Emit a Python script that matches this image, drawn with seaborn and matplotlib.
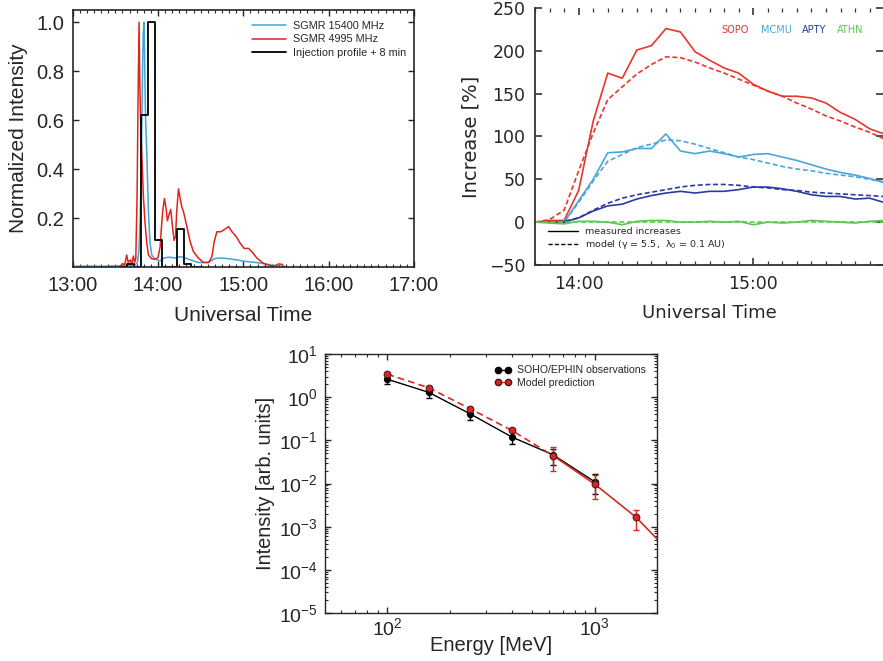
import numpy as np
import pandas as pd
import matplotlib
matplotlib.use("Agg")
import matplotlib.pyplot as plt
import seaborn as sns
from matplotlib.lines import Line2D
from matplotlib.ticker import MultipleLocator, LogLocator, NullFormatter

sns.set_style("ticks")
plt.rcParams['font.family'] = ['Liberation Sans', 'DejaVu Sans']
plt.rcParams['xtick.direction'] = 'in'
plt.rcParams['ytick.direction'] = 'in'

# ---------------- Panel 1: radio profiles (minutes after 13:00) ----------------
t_blue = [0, 10, 20, 30, 38, 42, 44, 45.5, 46.5, 47.5, 48.3, 49, 49.6, 50.2, 50.6, 51, 51.4,
          52.1, 52.8, 53.3, 54.4, 55.6, 58, 61.5, 64, 67, 70, 73, 75, 78, 81, 84, 88, 92, 96,
          100, 104, 108, 112, 116, 120, 125, 130, 135, 140, 145, 149]
v_blue = [0.004, 0.005, 0.004, 0.006, 0.007, 0.008, 0.01, 0.02, 0.06, 0.2, 0.45, 0.75, 0.95,
          1.0, 0.85, 0.68, 0.58, 0.47, 0.32, 0.22, 0.1, 0.05, 0.033, 0.027, 0.037, 0.041, 0.04,
          0.037, 0.043, 0.041, 0.034, 0.028, 0.02, 0.019, 0.022, 0.036, 0.038, 0.036, 0.033,
          0.03, 0.025, 0.022, 0.019, 0.014, 0.009, 0.005, 0.003]

t_red = [33, 35, 36.5, 38, 39, 40.4, 41.5, 42.7, 43.6, 44.4, 45.3, 46, 46.7, 47.2, 47.8, 48.6,
         49.7, 50.9, 52.1, 53.3, 55.6, 58, 60, 61.5, 62.5, 63.4, 64.5, 65.5, 66.6, 68, 69, 69.9,
         71.3, 72.3, 73.2, 74.4, 75.6, 76.7, 77.9, 80.3, 82.6, 84.9, 88.5, 92, 95.5, 97.9, 99.5,
         101.4, 104.2, 106.1, 108, 109.6, 112, 115, 117.8, 120.6, 123.7, 126, 129.6, 134.2,
         140.1, 143, 144.8, 147.2, 148.5]
v_red = [0.0, 0.015, 0.01, 0.05, 0.02, 0.03, 0.015, 0.046, 0.02, 0.037, 0.3, 0.7, 1.0, 0.75,
         0.6, 0.46, 0.29, 0.18, 0.1, 0.05, 0.035, 0.033, 0.04, 0.084, 0.17, 0.234, 0.28, 0.247,
         0.19, 0.22, 0.236, 0.18, 0.11, 0.125, 0.234, 0.32, 0.28, 0.247, 0.227, 0.166, 0.105,
         0.064, 0.037, 0.02, 0.019, 0.043, 0.105, 0.145, 0.145, 0.152, 0.159, 0.166, 0.145,
         0.125, 0.098, 0.077, 0.077, 0.064, 0.037, 0.016, 0.005, 0.008, 0.014, 0.012, 0.0]

t_inj = [33, 38, 43, 48, 53, 58, 63, 68, 73, 78, 83, 90]
v_inj = [0, 0.015, 0, 0.62, 1.0, 0.11, 0, 0, 0.155, 0.015, 0, 0]

time_ticks1 = [0, 60, 120, 180, 240]
time_labels1 = ["13:00", "14:00", "15:00", "16:00", "17:00"]

# ---------------- Panel 2: neutron monitor increases ----------------
t_nm = [45, 50, 55, 60, 65, 70, 75, 80, 85, 90, 95, 100, 105, 110, 115, 120, 125, 130, 135,
        140, 145, 150, 155, 160, 165]
sopo_meas = [0, 2, 2, 37, 118, 174, 168, 201, 206, 226, 222, 199, 189, 180, 174, 161, 153, 147,
             147, 145, 139, 128, 120, 109, 103]
sopo_model = [0, 3, 14, 60, 104, 143, 158, 173, 184, 193, 192, 187, 180, 174, 167, 160, 153,
              147, 139, 132, 124, 118, 111, 105, 97]
mcmu_meas = [0, 0, 0, 25, 50, 81, 82, 86, 86, 103, 83, 80, 83, 80, 76, 79, 80, 76, 72, 67, 62,
             58, 55, 51, 46]
mcmu_model = [0, 0, 0, 23, 48, 71, 79, 87, 91, 96, 95, 91, 86, 81, 76, 73, 69, 65, 62, 60, 57,
              55, 53, 50, 47]
apty_meas = [0, 0, 0, 5, 13, 19, 21, 27, 31, 34, 36, 34, 36, 36, 38, 41, 41, 39, 36, 32, 30, 30,
             27, 28, 23]
apty_model = [0, 0, 1, 5, 14, 22, 28, 32, 35, 38, 41, 43, 44, 44, 43, 41, 40, 38, 37, 35, 34,
              33, 32, 31, 30]
athn_meas = [0, -1, -2, 1, 1, 0, -3, 1, 2, 2, 0, 0, 1, 0, 1, -3, 0, -1, 0, 2, 1, 0, -1, 1, 2]
athn_model = [0, 0, 0, 0, 0, 0, 0, 0, 0, 0, 0, 0, 0, 0, 0, 0, 0, 0, 0, 0, 0, 0, 0, 0, 0]

stations = ["SOPO", "MCMU", "APTY", "ATHN"]
station_colors = {"SOPO": "#e8352e", "MCMU": "#4aa6da", "APTY": "#2b3b9e", "ATHN": "#5cc850"}
time_ticks2 = [60, 120]
time_labels2 = ["14:00", "15:00"]

# ---------------- Panel 3: spectrum ----------------
energy = [100, 158, 251, 398, 631, 1000, 1585]
obs = [2.6, 1.3, 0.41, 0.12, 0.046, 0.011]
obs_lo = [1.98, 0.97, 0.30, 0.081, 0.027, 0.0056]
obs_hi = [3.3, 1.75, 0.55, 0.17, 0.063, 0.0166]
model = [3.4, 1.66, 0.54, 0.17, 0.044, 0.0097, 0.00165]
model_err_e = [631, 1000, 1585]
model_err_lo = [0.0195, 0.0043, 0.00082]
model_err_hi = [0.071, 0.0158, 0.0025]
tail_e = [631, 1000, 1585, 2000]
tail_v = [0.044, 0.0097, 0.00165, 0.00052]

blue1 = "#3da5d9"
red1 = "#e2231a"
red3 = "#d9281f"

fig = plt.figure(figsize=(8.83, 6.61), dpi=100)
ax1 = fig.add_axes([0.0823, 0.5956, 0.3866, 0.3893])
ax2 = fig.add_axes([0.6059, 0.5991, 0.3941, 0.3888])
ax3 = fig.add_axes([0.3681, 0.0726, 0.3760, 0.3918])

# ---- panel 1 ----
sns.lineplot(x=t_blue, y=v_blue, ax=ax1, color=blue1, lw=1.1, label="SGMR 15400 MHz")
sns.lineplot(x=t_red, y=v_red, ax=ax1, color=red1, lw=1.1, label="SGMR 4995 MHz")
sns.lineplot(x=t_inj, y=v_inj, ax=ax1, color="black", lw=1.3, drawstyle="steps-post",
             label="Injection profile + 8 min")
ax1.set_xlim(0, 240)
ax1.set_ylim(0, 1.05)
ax1.set_xticks(time_ticks1, time_labels1)
ax1.set_yticks([0.2, 0.4, 0.6, 0.8, 1.0], ["0.2", "0.4", "0.6", "0.8", "1.0"])
ax1.xaxis.set_minor_locator(MultipleLocator(5))
ax1.tick_params(which="both", top=True, right=True, direction="in", labelsize=14.5, pad=6)
ax1.tick_params(which="major", length=4, width=1)
ax1.tick_params(which="minor", length=2, width=0.8)
ax1.set_xlabel("Universal Time", fontsize=15, labelpad=8)
ax1.set_ylabel("Normalized Intensity", fontsize=15, labelpad=6)
for s in ax1.spines.values():
    s.set_linewidth(1.2)
ax1.legend(loc="upper left", bbox_to_anchor=(0.508, 0.978), frameon=False, fontsize=7.8,
           handlelength=3.2, handletextpad=0.6, labelspacing=0.3, borderpad=0)

# ---- panel 2 ----
rows = []
series = {"SOPO": (sopo_meas, sopo_model), "MCMU": (mcmu_meas, mcmu_model),
          "APTY": (apty_meas, apty_model), "ATHN": (athn_meas, athn_model)}
for st in stations:
    meas, mod = series[st]
    for t, m, d in zip(t_nm, meas, mod):
        rows.append({"minute": t, "increase": m, "station": st, "kind": "measured"})
        rows.append({"minute": t, "increase": d, "station": st, "kind": "model"})
df = pd.DataFrame(rows)
sns.lineplot(data=df, x="minute", y="increase", hue="station", style="kind",
             palette=station_colors, dashes={"measured": "", "model": (3, 1.6)},
             lw=1.2, legend=False, ax=ax2)
ax2.set_xlim(45, 164.6)
ax2.set_ylim(-50, 250)
ax2.set_xticks(time_ticks2, time_labels2)
ax2.set_yticks([-50, 0, 50, 100, 150, 200, 250])
ax2.xaxis.set_minor_locator(MultipleLocator(5))
ax2.spines["top"].set_visible(False)
ax2.spines["right"].set_visible(False)
ax2.spines["left"].set_color("#333333")
ax2.spines["bottom"].set_color("#333333")
ax2.spines["left"].set_linewidth(1.3)
ax2.spines["bottom"].set_linewidth(1.3)
ax2.tick_params(which="both", top=True, right=True, direction="in", labelsize=12.5, pad=7,
                labelfontfamily="DejaVu Sans", color="#333333")
ax2.tick_params(which="major", length=5, width=1.2)
ax2.tick_params(which="minor", length=3, width=0.9)
ax2.set_xlabel("Universal Time", fontsize=13, family="DejaVu Sans", labelpad=8)
ax2.set_ylabel("Increase [%]", fontsize=14, family="DejaVu Sans", labelpad=6)
for st, xpos in zip(stations, [0.575, 0.6925, 0.802, 0.905]):
    ax2.text(xpos, 0.916, st, color=station_colors[st], transform=ax2.transAxes,
             ha="center", va="center", fontsize=7, family="DejaVu Sans")
handles2 = [Line2D([], [], color="black", lw=1.0),
            Line2D([], [], color="black", lw=1.0, ls=(0, (3, 1.6)))]
ax2.legend(handles2, ["measured increases", "model (γ = 5.5,  λ$_0$ = 0.1 AU)"],
           loc="lower left", bbox_to_anchor=(0.023, 0.035), frameon=False,
           handlelength=3.2, handletextpad=0.7, labelspacing=0.2, borderpad=0,
           prop={"family": "DejaVu Sans", "size": 6.8})

# ---- panel 3 ----
ax3.set_xscale("log")
ax3.set_yscale("log")
obs_e = energy[:len(obs)]
sns.lineplot(x=obs_e, y=obs, ax=ax3, color="black", lw=1.0, marker="o", ms=4.5, mec="black")
ax3.errorbar(obs_e, obs, yerr=[np.array(obs) - np.array(obs_lo), np.array(obs_hi) - np.array(obs)],
             fmt="none", ecolor="black", elinewidth=1, capsize=2.5, capthick=1)
sns.lineplot(x=energy[:5], y=model[:5], ax=ax3, color=red3, lw=1.2, ls=(0, (4, 2.5)))
sns.lineplot(x=tail_e, y=tail_v, ax=ax3, color=red3, lw=1.2)
ax3.errorbar(model_err_e, model[4:],
             yerr=[np.array(model[4:]) - np.array(model_err_lo), np.array(model_err_hi) - np.array(model[4:])],
             fmt="none", ecolor=red3, elinewidth=1, capsize=2.5, capthick=1)
sns.scatterplot(x=energy, y=model, ax=ax3, color=red3, edgecolor="#4a1010", linewidth=0.7,
                s=24, zorder=5)
ax3.set_xlim(50, 2000)
ax3.set_ylim(1e-5, 10)
ax3.xaxis.set_major_locator(LogLocator(base=10))
ax3.xaxis.set_minor_locator(LogLocator(base=10, subs=np.arange(2, 10)))
ax3.xaxis.set_minor_formatter(NullFormatter())
ax3.yaxis.set_major_locator(LogLocator(base=10, numticks=10))
ax3.yaxis.set_minor_locator(LogLocator(base=10, subs=np.arange(2, 10), numticks=10))
ax3.yaxis.set_minor_formatter(NullFormatter())
ax3.tick_params(which="both", top=True, right=True, direction="in", labelsize=14, pad=5)
ax3.tick_params(axis="x", pad=3)
ax3.tick_params(which="major", length=4, width=1)
ax3.tick_params(which="minor", length=2, width=0.8)
ax3.set_xlabel("Energy [MeV]", fontsize=14.5, labelpad=-2.5)
ax3.set_ylabel("Intensity [arb. units]", fontsize=14.4, labelpad=3)
for s in ax3.spines.values():
    s.set_linewidth(1.0)
handles3 = [Line2D([], [], color="black", lw=1.0, marker="o", ms=4.5, mec="black"),
            Line2D([], [], color=red3, lw=1.0, marker="o", ms=4.5, mec="#4a1010")]
ax3.legend(handles3, ["SOHO/EPHIN observations", "Model prediction"], loc="upper left",
           bbox_to_anchor=(0.495, 0.977), frameon=False, fontsize=7.6, numpoints=2,
           handlelength=1.6, handletextpad=0.5, labelspacing=0.25, borderpad=0)

fig.savefig("out.png", dpi=100)
